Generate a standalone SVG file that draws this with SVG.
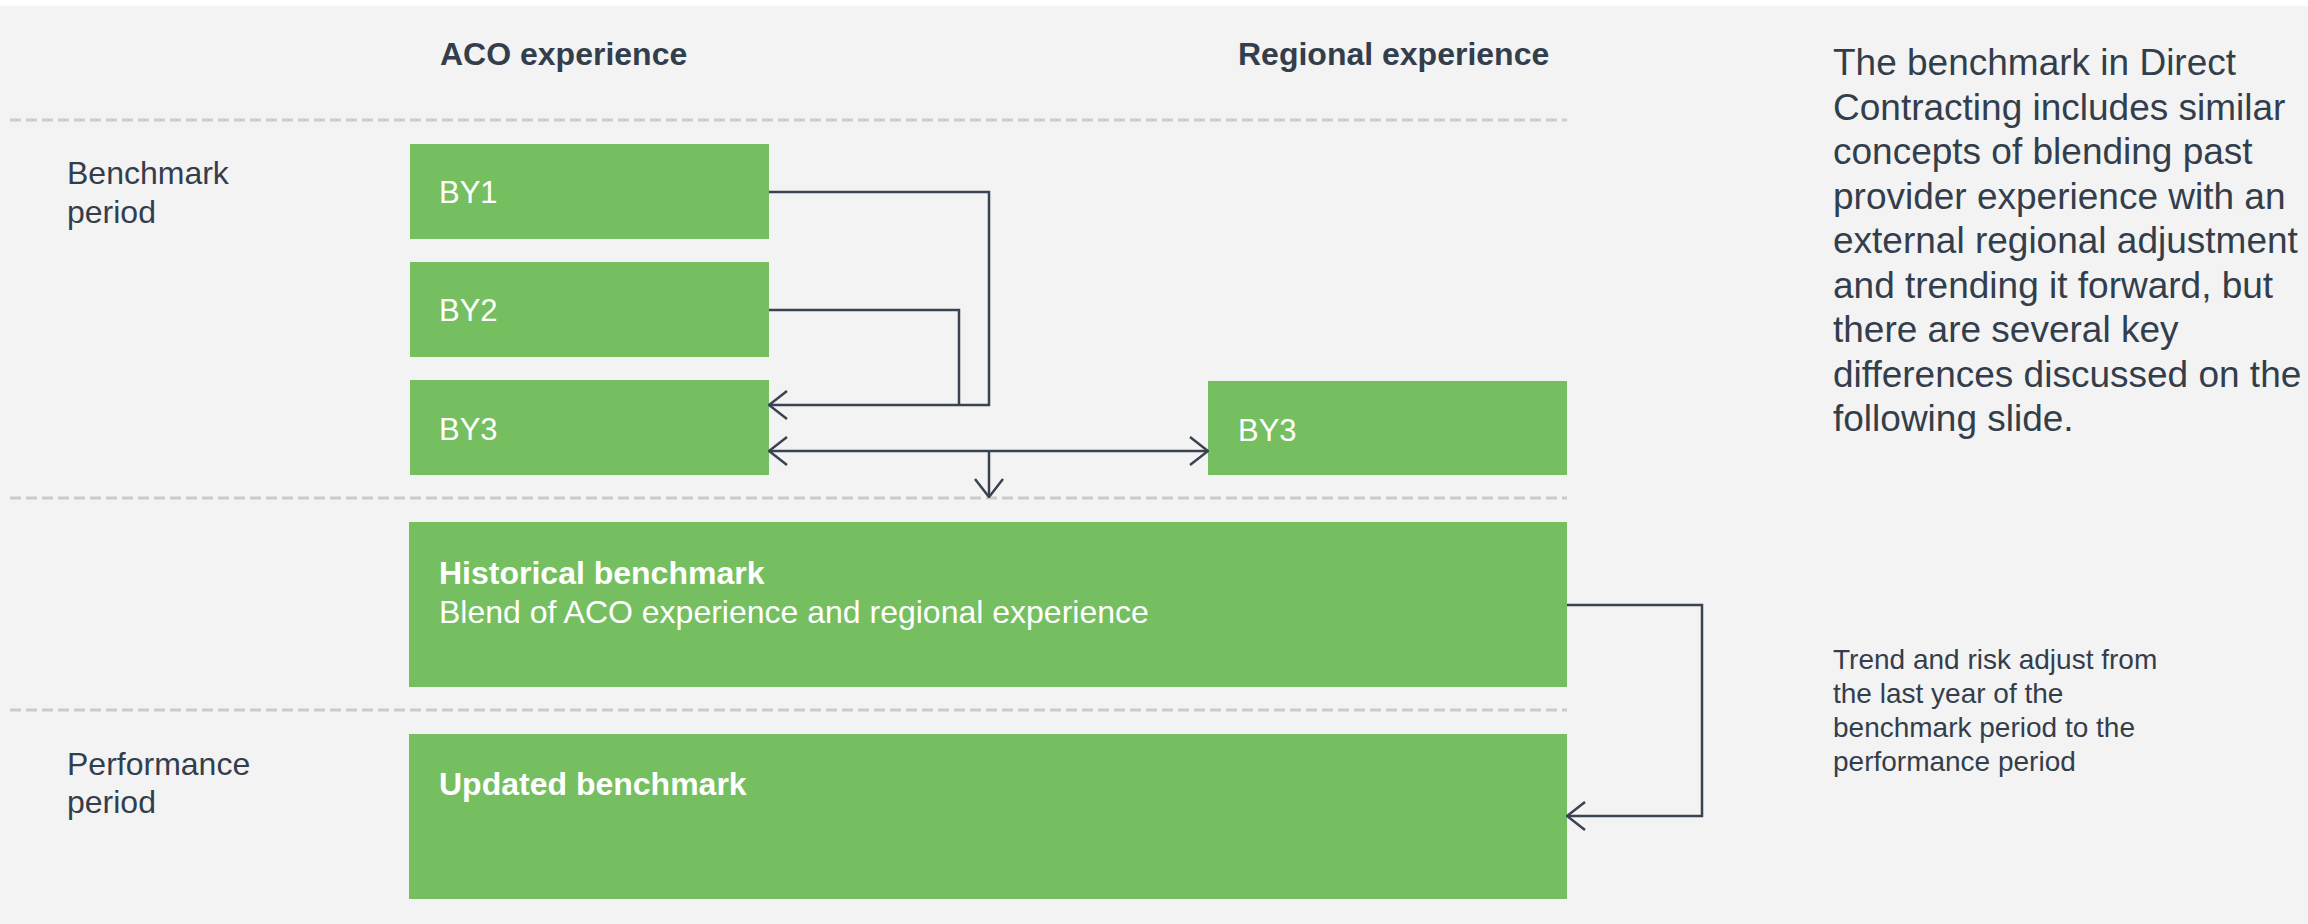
<svg xmlns="http://www.w3.org/2000/svg" width="2308" height="924" viewBox="0 0 2308 924">
  <style>
    .bg { fill: #f3f3f3; }
    .box { fill: #75bf61; }
    .divider { stroke: #cbcbcb; stroke-width: 3; stroke-dasharray: 11 5; fill: none; }
    .conn { stroke: #3a4351; stroke-width: 2.5; fill: none; }
    .head { font-family: "Liberation Sans", Arial, sans-serif; font-size: 32px; font-weight: bold; fill: #333e4c; }
    .side { font-family: "Liberation Sans", Arial, sans-serif; font-size: 32px; fill: #333e4c; }
    .boxlabel { font-family: "Liberation Sans", Arial, sans-serif; font-size: 31px; fill: #ffffff; }
    .boxtitle { font-family: "Liberation Sans", Arial, sans-serif; font-size: 32px; font-weight: bold; fill: #ffffff; }
    .boxtext { font-family: "Liberation Sans", Arial, sans-serif; font-size: 32px; fill: #ffffff; }
    .note { font-family: "Liberation Sans", Arial, sans-serif; font-size: 28px; fill: #333e4c; }
    .summary { font-family: "Liberation Sans", Arial, sans-serif; font-size: 37px; fill: #333e4c; }
  </style>
  <defs>
    <marker id="chevron" viewBox="0 0 20 30" refX="19" refY="15" markerWidth="20" markerHeight="30" markerUnits="userSpaceOnUse" orient="auto-start-reverse">
      <path d="M1,1 L19,15 L1,29" fill="none" stroke="#3a4351" stroke-width="2.5"/>
    </marker>
  </defs>

  <rect class="bg" x="0" y="6" width="2308" height="918"/>

  <!-- column headings -->
  <text class="head" x="440" y="65">ACO experience</text>
  <text class="head" x="1238" y="65">Regional experience</text>

  <!-- period separators -->
  <line class="divider" x1="10" y1="120" x2="1567" y2="120"/>
  <line class="divider" x1="10" y1="498" x2="1567" y2="498"/>
  <line class="divider" x1="10" y1="710" x2="1567" y2="710"/>

  <!-- row labels -->
  <text class="side" x="67" y="184">Benchmark</text>
  <text class="side" x="67" y="223">period</text>
  <text class="side" x="67" y="775">Performance</text>
  <text class="side" x="67" y="813">period</text>

  <g id="by1">
    <rect class="box" x="410" y="144" width="359" height="95"/>
    <text class="boxlabel" x="439" y="203">BY1</text>
  </g>
  <g id="by2">
    <rect class="box" x="410" y="262" width="359" height="95"/>
    <text class="boxlabel" x="439" y="321">BY2</text>
  </g>
  <g id="by3-aco">
    <rect class="box" x="410" y="380" width="359" height="95"/>
    <text class="boxlabel" x="439" y="440">BY3</text>
  </g>
  <g id="by3-regional">
    <rect class="box" x="1208" y="381" width="359" height="94"/>
    <text class="boxlabel" x="1238" y="441">BY3</text>
  </g>
  <g id="historical-benchmark">
    <rect class="box" x="409" y="522" width="1158" height="165"/>
    <text class="boxtitle" x="439" y="584">Historical benchmark</text>
    <text class="boxtext" x="439" y="623">Blend of ACO experience and regional experience</text>
  </g>
  <g id="updated-benchmark">
    <rect class="box" x="409" y="734" width="1158" height="165"/>
    <text class="boxtitle" x="439" y="795">Updated benchmark</text>
  </g>

  <g id="connectors">
    <path class="conn" d="M769,192 H989 V405 H769" marker-end="url(#chevron)"/>
    <path class="conn" d="M769,310 H959 V405"/>
    <path class="conn" d="M769,451 H1208" marker-start="url(#chevron)" marker-end="url(#chevron)"/>
    <path class="conn" d="M989,451 V497" marker-end="url(#chevron)"/>
    <path class="conn" d="M1567,605 H1702 V816 H1567" marker-end="url(#chevron)"/>
  </g>

  <g id="trend-note">
    <text class="note" x="1833" y="669">Trend and risk adjust from</text>
    <text class="note" x="1833" y="703">the last year of the</text>
    <text class="note" x="1833" y="737">benchmark period to the</text>
    <text class="note" x="1833" y="771">performance period</text>
  </g>

  <g id="summary">
    <text class="summary" x="1833" y="75">The benchmark in Direct</text>
    <text class="summary" x="1833" y="120">Contracting includes similar</text>
    <text class="summary" x="1833" y="164">concepts of blending past</text>
    <text class="summary" x="1833" y="209">provider experience with an</text>
    <text class="summary" x="1833" y="253">external regional adjustment</text>
    <text class="summary" x="1833" y="298">and trending it forward, but</text>
    <text class="summary" x="1833" y="342">there are several key</text>
    <text class="summary" x="1833" y="387">differences discussed on the</text>
    <text class="summary" x="1833" y="431">following slide.</text>
  </g>
</svg>
